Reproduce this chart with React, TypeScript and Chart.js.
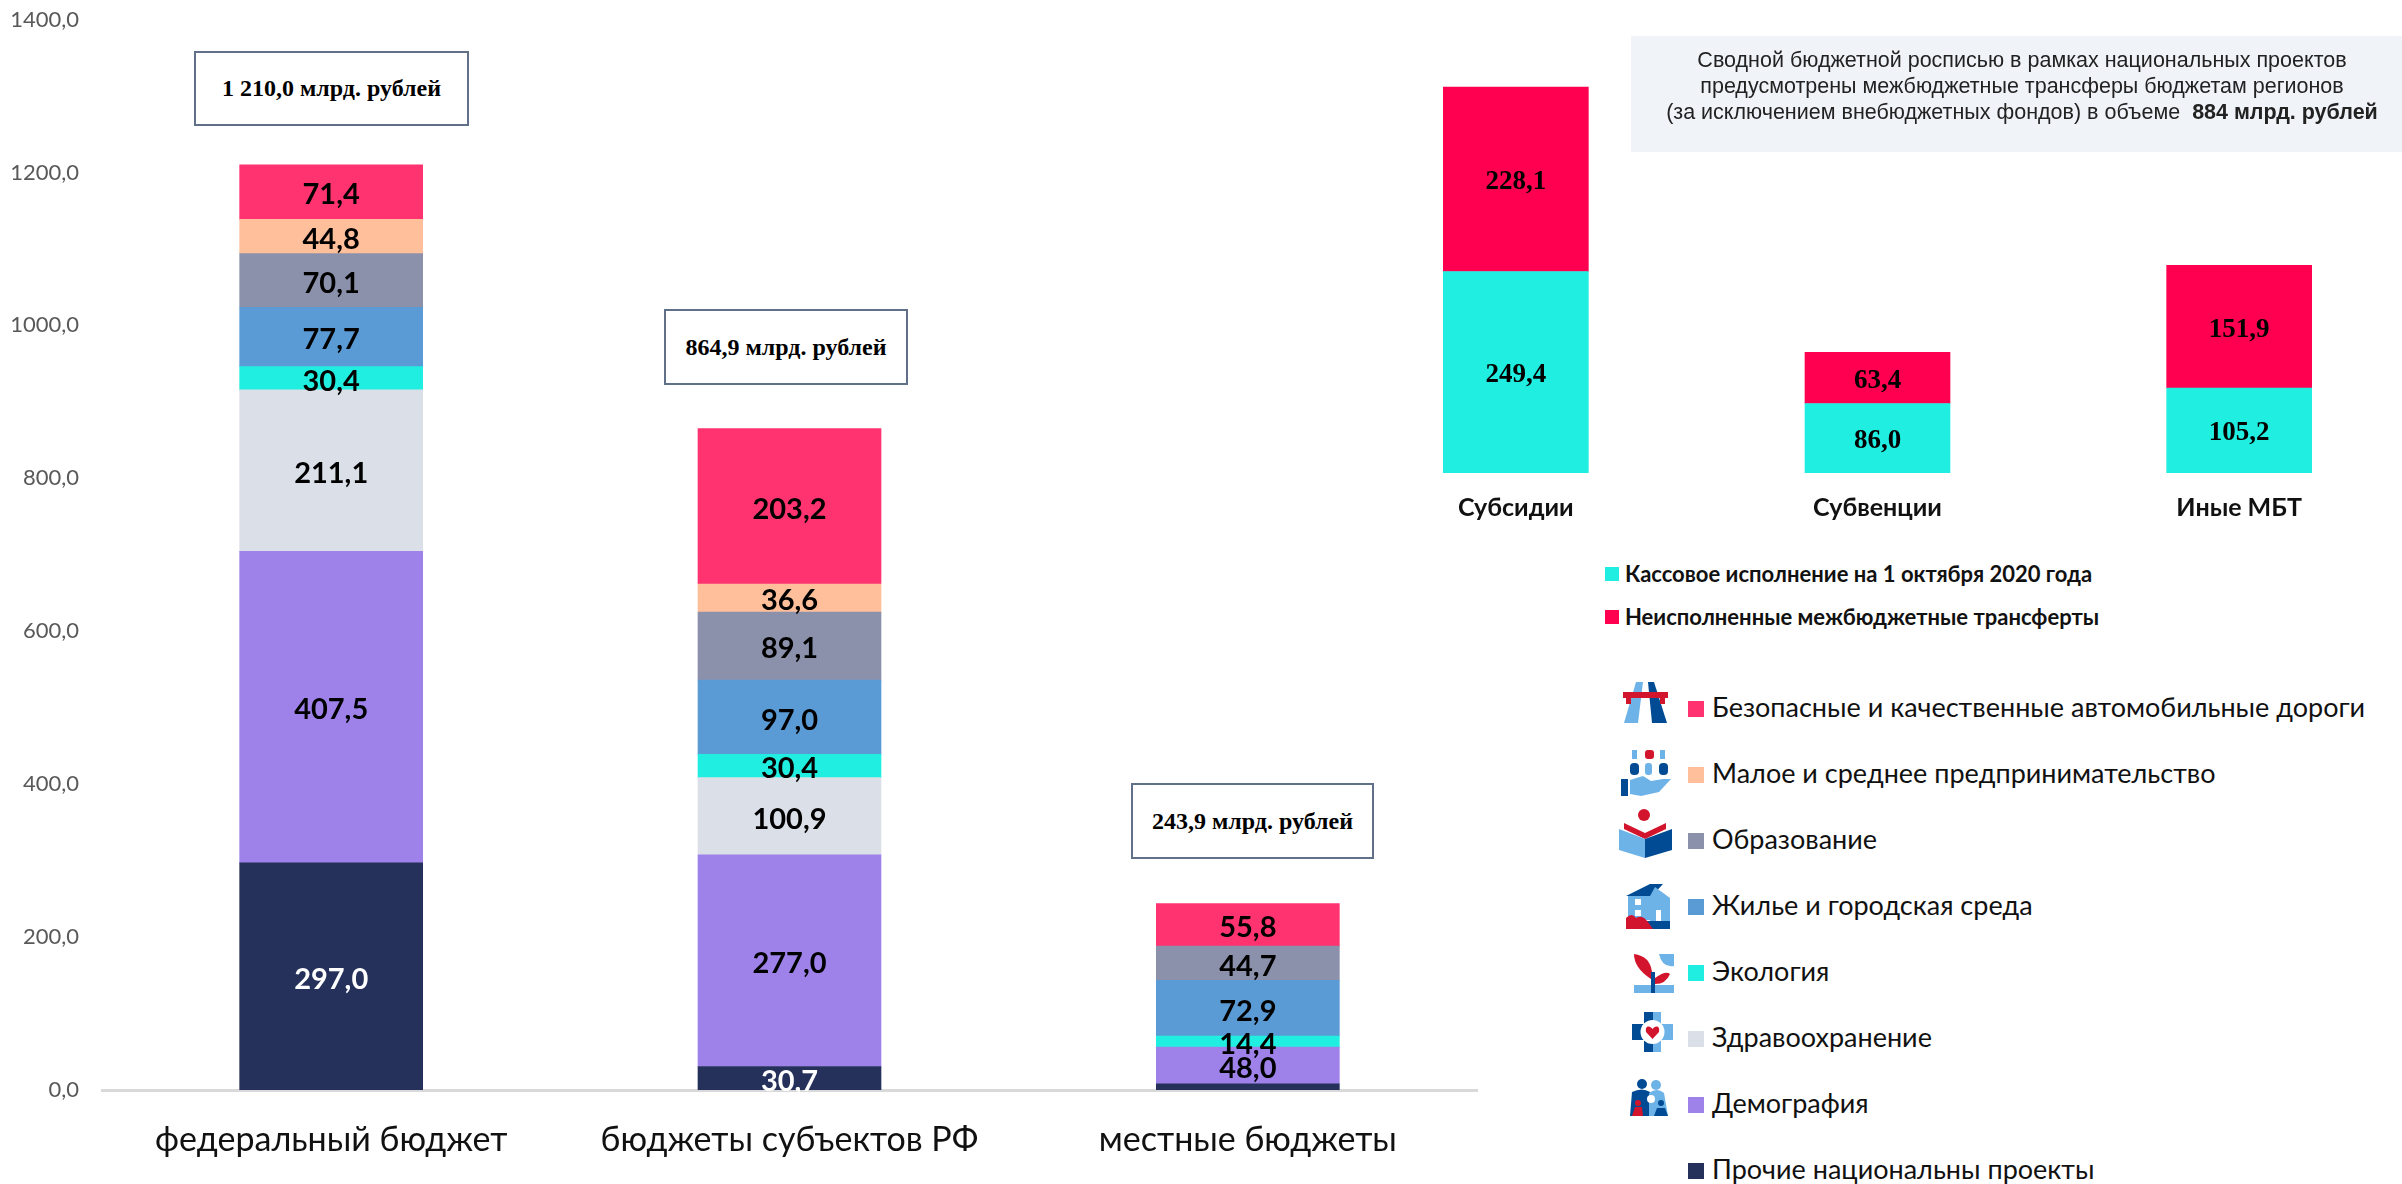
import React, { useEffect, useRef } from "react";
import { Chart, registerables } from "chart.js";

Chart.register(...registerables);

const budgetLevels = ["федеральный бюджет", "бюджеты субъектов РФ", "местные бюджеты"];
const otherProjects = [297.0, 30.7, 8.1];
const demography = [407.5, 277.0, 48.0];
const healthcare = [211.1, 100.9, null];
const ecology = [30.4, 30.4, 14.4];
const housing = [77.7, 97.0, 72.9];
const education = [70.1, 89.1, 44.7];
const smallBusiness = [44.8, 36.6, null];
const roads = [71.4, 203.2, 55.8];
const budgetTotals = ["1 210,0 млрд. рублей", "864,9 млрд. рублей", "243,9 млрд. рублей"];

const transferTypes = ["Субсидии", "Субвенции", "Иные МБТ"];
const transferPaid = [249.4, 86.0, 105.2];
const transferUnpaid = [228.1, 63.4, 151.9];

const yTicks = [0, 200, 400, 600, 800, 1000, 1200, 1400];

const COLORS = {
  roads: "#FF3370",
  smallBusiness: "#FFBF9A",
  education: "#8B91AB",
  housing: "#5B9BD5",
  ecology: "#20EEE0",
  healthcare: "#DBDFE7",
  demography: "#9E82E9",
  other: "#25315B",
  unpaid: "#FF0050",
};

const projectLegend = [
  ["Безопасные и качественные автомобильные дороги", COLORS.roads],
  ["Малое и среднее предпринимательство", COLORS.smallBusiness],
  ["Образование", COLORS.education],
  ["Жилье и городская среда", COLORS.housing],
  ["Экология", COLORS.ecology],
  ["Здравоохранение", COLORS.healthcare],
  ["Демография", COLORS.demography],
  ["Прочие национальны проекты", COLORS.other],
];
const transferLegend = [
  ["Кассовое исполнение на 1 октября 2020 года", COLORS.ecology],
  ["Неисполненные межбюджетные трансферты", COLORS.unpaid],
];

const fmt = (v: number) => v.toFixed(1).replace(".", ",");

const segmentLabels = (font: string, minValue: number) => ({
  id: "segmentLabels",
  afterDatasetsDraw(chart: any) {
    const ctx = chart.ctx;
    ctx.save();
    ctx.font = font;
    ctx.textAlign = "center";
    ctx.textBaseline = "middle";
    chart.data.datasets.forEach((ds: any, di: number) => {
      chart.getDatasetMeta(di).data.forEach((bar: any, i: number) => {
        const v = ds.data[i];
        if (v == null || v < minValue) return;
        ctx.fillStyle = ds.labelColor || "#000";
        ctx.fillText(fmt(v), bar.x, (bar.y + bar.base) / 2 + 3);
      });
    });
    ctx.restore();
  },
});

const dark = "#004B93";
const light = "#6DB3E8";
const red = "#D2142C";

const Icon = ({ x, y, w, h, children }: any) => (
  <svg
    style={{ position: "absolute", left: x, top: y }}
    width={w}
    height={h}
    viewBox={`0 0 ${w} ${h}`}
  >
    {children}
  </svg>
);

const Legend = ({ rows, x, ys, box, font, gap, textShift }: any) =>
  rows.map(([label, color]: any, i: number) => (
    <React.Fragment key={label}>
      <div
        style={{
          position: "absolute",
          left: x,
          top: ys(i) - box / 2,
          width: box,
          height: box,
          background: color,
        }}
      />
      <div
        style={{
          position: "absolute",
          left: x + box + gap,
          top: ys(i) - 25 + textShift,
          height: 50,
          font,
          lineHeight: "50px",
          whiteSpace: "nowrap",
          color: "#111",
        }}
      >
        {label}
      </div>
    </React.Fragment>
  ));

const totalBoxes = [
  { left: 194, top: 51, width: 275, height: 75, font: 24 },
  { left: 664, top: 309, width: 244, height: 76, font: 24 },
  { left: 1131, top: 783, width: 243, height: 76, font: 24 },
];

export default function App() {
  const leftRef = useRef<HTMLCanvasElement>(null);
  const rightRef = useRef<HTMLCanvasElement>(null);

  useEffect(() => {
    const mk = (label: string, data: any[], color: string, labelColor = "#000") => ({
      label,
      data,
      backgroundColor: color,
      labelColor,
      barThickness: 183,
      stack: "s",
    });
    const left = new Chart(leftRef.current!, {
      type: "bar",
      data: {
        labels: budgetLevels,
        datasets: [
          mk("Прочие национальны проекты", otherProjects, COLORS.other, "#fff"),
          mk("Демография", demography, COLORS.demography),
          mk("Здравоохранение", healthcare, COLORS.healthcare),
          mk("Экология", ecology, COLORS.ecology),
          mk("Жилье и городская среда", housing, COLORS.housing),
          mk("Образование", education, COLORS.education),
          mk("Малое и среднее предпринимательство", smallBusiness, COLORS.smallBusiness),
          mk("Безопасные и качественные автомобильные дороги", roads, COLORS.roads),
        ] as any,
      },
      options: {
        animation: false,
        responsive: false,
        layout: { padding: { top: 19.5, right: 23, left: 0, bottom: 0 } },
        plugins: { legend: { display: false }, tooltip: { enabled: false } },
        scales: {
          x: {
            stacked: true,
            afterFit: (s: any) => { s.height = 94; s.paddingLeft = 0; s.paddingRight = 0; },
            grid: { display: false, drawTicks: false },
            border: { color: "#D9D9D9", width: 3 },
            ticks: {
              color: "#111",
              padding: 30,
              maxRotation: 0,
              font: { family: "Lato", size: 34 },
            },
          },
          y: {
            stacked: true,
            min: 0,
            max: 1400,
            afterFit: (s: any) => { s.width = 102; s.paddingTop = 0; s.paddingBottom = 0; },
            afterBuildTicks: (s: any) => { s.ticks = yTicks.map((value) => ({ value })); },
            grid: { display: false, drawTicks: false },
            border: { display: false },
            ticks: {
              color: "#595959",
              padding: 23,
              font: { family: "Lato", size: 22 },
              callback: (v: any) => fmt(Number(v)),
            },
          },
        },
      },
      plugins: [segmentLabels("bold 29px Lato", 10)],
    } as any);

    const right = new Chart(rightRef.current!, {
      type: "bar",
      data: {
        labels: transferTypes,
        datasets: [
          { label: "Кассовое исполнение", data: transferPaid, backgroundColor: COLORS.ecology, barThickness: 145 },
          { label: "Неисполненные", data: transferUnpaid, backgroundColor: COLORS.unpaid, barThickness: 145 },
        ],
      },
      options: {
        animation: false,
        responsive: false,
        layout: { padding: { top: 0, right: 0, left: 0, bottom: 0 } },
        plugins: { legend: { display: false }, tooltip: { enabled: false } },
        scales: {
          x: {
            stacked: true,
            afterFit: (s: any) => { s.height = 67; },
            grid: { display: false, drawTicks: false },
            border: { display: false },
            ticks: {
              color: "#111",
              padding: 20,
              maxRotation: 0,
              font: { family: "Lato", size: 25, weight: "bold" },
            },
          },
          y: {
            stacked: true,
            display: false,
            min: 0,
            max: 500,
          },
        },
      },
      plugins: [segmentLabels("bold 27px 'Liberation Serif'", 0)],
    } as any);

    return () => {
      left.destroy();
      right.destroy();
    };
  }, []);

  return (
    <div
      style={{
        position: "fixed",
        left: 0,
        top: 0,
        width: 2402,
        height: 1184,
        overflow: "hidden",
        background: "#fff",
      }}
    >
      <canvas
        ref={leftRef}
        width={1500}
        height={1184}
        style={{ position: "absolute", left: 0, top: 0, width: 1500, height: 1184 }}
      />
      <canvas
        ref={rightRef}
        width={1085}
        height={471}
        style={{ position: "absolute", left: 1335, top: 69, width: 1085, height: 471 }}
      />

      {totalBoxes.map((b, i) => (
        <div
          key={i}
          style={{
            position: "absolute",
            left: b.left,
            top: b.top,
            width: b.width,
            height: b.height,
            boxSizing: "border-box",
            border: "2px solid #5F7088",
            background: "#fff",
            display: "flex",
            alignItems: "center",
            justifyContent: "center",
            font: `bold ${b.font}px 'Liberation Serif'`,
            color: "#000",
            whiteSpace: "nowrap",
          }}
        >
          {budgetTotals[i]}
        </div>
      ))}

      <div
        style={{
          position: "absolute",
          left: 1631,
          top: 36,
          width: 771,
          height: 116,
          background: "#F0F3F8",
        }}
      />
      <div
        style={{
          position: "absolute",
          left: 1622,
          width: 800,
          top: 47,
          textAlign: "center",
          font: "21.5px/26px 'Liberation Sans'",
          color: "#222",
          whiteSpace: "nowrap",
        }}
      >
        Сводной бюджетной росписью в рамках национальных проектов
        <br />
        предусмотрены межбюджетные трансферы бюджетам регионов
        <br />
        (за исключением внебюджетных фондов) в объеме&nbsp; <b>884 млрд. рублей</b>
      </div>

      <Legend
        rows={transferLegend}
        x={1605}
        ys={(i: number) => 574 + i * 43}
        box={14}
        gap={6}
        textShift={0}
        font="bold 22px Lato"
      />
      <Legend
        rows={projectLegend}
        x={1688}
        ys={(i: number) => 709 + i * 66}
        box={16}
        gap={8}
        textShift={-2}
        font="27px Lato"
      />

      <Icon x={1623} y={682} w={45} h={41}>
        <path d="M1 41 L13 0 L20 0 L15 41 Z" fill={light} />
        <path d="M25 0 L31 0 L44 41 L29 41 Z" fill={dark} />
        <rect x={0} y={10} width={45} height={6} fill={red} />
        <rect x={3} y={16} width={5} height={6} fill={red} />
        <rect x={37} y={16} width={5} height={6} fill={red} />
      </Icon>
      <Icon x={1621} y={750} w={50} h={46}>
        <rect x={11} y={0} width={5} height={9} fill={light} />
        <rect x={24} y={0} width={9} height={9} rx={3} fill={red} />
        <rect x={39} y={0} width={5} height={9} fill={light} />
        <rect x={9} y={13} width={9} height={12} rx={4} fill={dark} />
        <rect x={24} y={13} width={7} height={12} rx={3} fill={light} />
        <rect x={38} y={13} width={9} height={12} rx={4} fill={dark} />
        <rect x={0} y={29} width={7} height={17} fill={dark} />
        <path d="M9 30 L22 26 L30 31 L42 29 L50 29 L38 42 L20 46 L9 44 Z" fill={light} />
      </Icon>
      <Icon x={1619} y={809} w={53} h={49}>
        <circle cx={25} cy={6} r={6} fill={red} />
        <path d="M5 14 L26 24 L47 14 L47 20 L26 30 L5 20 Z" fill={red} />
        <path d="M0 20 L26 30 L26 49 L0 41 Z" fill={light} />
        <path d="M53 20 L26 30 L26 49 L53 41 Z" fill={dark} />
      </Icon>
      <Icon x={1626} y={884} w={44} h={45}>
        <path d="M0 12 L24 0 L37 0 L26 12 Z" fill={dark} />
        <path d="M29 3 L44 14 L44 38 L24 38 L24 12 Z" fill={light} />
        <rect x={2} y={12} width={22} height={24} fill={light} />
        <rect x={9} y={15} width={6} height={6} fill="#fff" />
        <rect x={9} y={26} width={6} height={6} fill="#fff" />
        <rect x={30} y={26} width={5} height={12} fill="#fff" />
        <rect x={20} y={37} width={24} height={8} fill={dark} />
        <path d="M0 45 L0 34 Q6 28 10 34 Q16 30 22 38 L27 45 Z" fill={red} />
      </Icon>
      <Icon x={1634} y={954} w={40} h={39}>
        <path d="M0 0 Q16 2 18 18 L17 25 Q0 14 0 0 Z" fill={red} />
        <path d="M25 0 L40 0 L40 12 Q28 14 25 0 Z" fill={light} />
        <path d="M21 24 Q32 16 36 20 Q32 30 21 30 Z" fill={red} />
        <rect x={0} y={31} width={40} height={8} fill={light} />
        <rect x={17} y={18} width={4} height={21} fill={dark} />
      </Icon>
      <Icon x={1632} y={1012} w={41} h={40}>
        <rect x={12} y={0} width={17} height={40} fill={light} />
        <rect x={0} y={12} width={41} height={16} fill={light} />
        <rect x={12} y={0} width={9} height={40} fill={dark} />
        <rect x={0} y={12} width={21} height={16} fill={dark} />
        <circle cx={20.5} cy={20} r={12} fill="#fff" />
        <path d="M20.5 27 L14 20 Q13 14 17 14.5 Q19.5 15 20.5 17 Q21.5 15 24 14.5 Q28 14 27 20 Z" fill={red} />
      </Icon>
      <Icon x={1630} y={1079} w={38} h={37}>
        <circle cx={12} cy={5} r={5} fill={dark} />
        <path d="M2 13 Q12 8 20 13 L22 37 L0 37 Z" fill={dark} />
        <circle cx={26} cy={6} r={5} fill={light} />
        <path d="M19 14 Q27 8 34 14 L38 37 L19 37 Z" fill={light} />
        <circle cx={21} cy={20} r={4} fill="#fff" />
        <circle cx={8} cy={24} r={3} fill={red} />
        <path d="M2 37 L5 28 L12 28 L13 37 Z" fill={red} />
        <circle cx={31} cy={24} r={3} fill={dark} />
        <path d="M24 37 L27 29 L35 29 L38 37 Z" fill={dark} />
      </Icon>
    </div>
  );
}
